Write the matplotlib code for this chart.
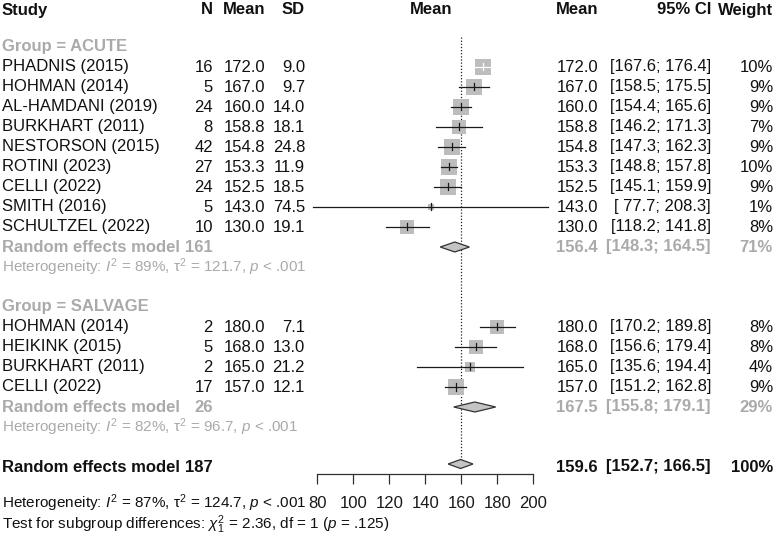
import matplotlib
matplotlib.use("Agg")
import matplotlib.pyplot as plt
from matplotlib.patches import Polygon
import numpy as np

plt.rcParams['font.family'] = ['Liberation Sans', 'DejaVu Sans']
plt.rcParams['mathtext.fontset'] = 'custom'
plt.rcParams['mathtext.rm'] = 'Liberation Sans'
plt.rcParams['mathtext.it'] = 'Liberation Sans:italic'
plt.rcParams['mathtext.bf'] = 'Liberation Sans:bold'

# ---------------- data ----------------
acute_studies = ["PHADNIS (2015)", "HOHMAN (2014)", "AL-HAMDANI (2019)", "BURKHART (2011)",
                 "NESTORSON (2015)", "ROTINI (2023)", "CELLI (2022)", "SMITH (2016)", "SCHULTZEL (2022)"]
acute_n = [16, 5, 24, 8, 42, 27, 24, 5, 10]
acute_mean = [172.0, 167.0, 160.0, 158.8, 154.8, 153.3, 152.5, 143.0, 130.0]
acute_sd = [9.0, 9.7, 14.0, 18.1, 24.8, 11.9, 18.5, 74.5, 19.1]
acute_lo = [167.6, 158.5, 154.4, 146.2, 147.3, 148.8, 145.1, 77.7, 118.2]
acute_hi = [176.4, 175.5, 165.6, 171.3, 162.3, 157.8, 159.9, 208.3, 141.8]
acute_w = [10, 9, 9, 7, 9, 10, 9, 1, 8]

salvage_studies = ["HOHMAN (2014)", "HEIKINK (2015)", "BURKHART (2011)", "CELLI (2022)"]
salvage_n = [2, 5, 2, 17]
salvage_mean = [180.0, 168.0, 165.0, 157.0]
salvage_sd = [7.1, 13.0, 21.2, 12.1]
salvage_lo = [170.2, 156.6, 135.6, 151.2]
salvage_hi = [189.8, 179.4, 194.4, 162.8]
salvage_w = [8, 8, 4, 9]

acute_summary = dict(n=161, est=156.4, lo=148.3, hi=164.5, w=71, het=(89, 121.7, "< .001"))
salvage_summary = dict(n=26, est=167.5, lo=155.8, hi=179.1, w=29, het=(82, 96.7, "< .001"))
overall = dict(n=187, est=159.6, lo=152.7, hi=166.5, w=100, het=(87, 124.7, "< .001"))
subgroup_test = dict(chi2=2.36, df=1, p=".125")

xticks = [80, 100, 120, 140, 160, 180, 200]

# ---------------- layout ----------------
W, H = 776, 536
fig = plt.figure(figsize=(W / 100, H / 100), dpi=100)

# text layer in pixel coordinates
tx = fig.add_axes([0, 0, 1, 1])
tx.set_xlim(0, W)
tx.set_ylim(H, 0)
tx.axis('off')

# plot layer: x in data units, y in pixel rows
ax_left, ax_right = 317.3, 533.3
ax_top, ax_bot = 37, 474
ax = fig.add_axes([ax_left / W, (H - ax_bot) / H, (ax_right - ax_left) / W, (ax_bot - ax_top) / H])
ax.set_xlim(80, 200)
ax.set_ylim(ax_bot, ax_top)
ax.patch.set_visible(False)
for s in ['top', 'right', 'left']:
    ax.spines[s].set_visible(False)
ax.spines['bottom'].set_bounds(80, 200)
ax.spines['bottom'].set_linewidth(0.9)
ax.spines['bottom'].set_color('#303030')
ax.set_yticks([])
ax.set_xticks(xticks)
ax.set_xticklabels([str(t) for t in xticks])
ax.tick_params(axis='x', direction='out', length=7.5, width=0.9, color='#303030',
               pad=8, labelsize=12, labelcolor='#1a1a1a')

FS = 12
FS_HET = 11
GRAY = '#aaaaaa'
BLACK = '#111111'
SQ = '#bdbdbd'
PXU = (ax_right - ax_left) / 120.0  # px per unit

X_STUDY, X_N, X_MEAN, X_SD = 2, 213, 265, 305
X_PMEAN, X_RMEAN, X_CI, X_W = 431, 598, 711, 773


def t(x, y, s, ha='left', color=BLACK, weight='normal', fs=FS):
    tx.text(x, y, s, ha=ha, va='center', fontsize=fs, color=color, fontweight=weight)


# header
yh = 10
t(X_STUDY, yh, "Study", weight='bold')
t(X_N, yh, "N", ha='right', weight='bold')
t(X_MEAN, yh, "Mean", ha='right', weight='bold')
t(X_SD, yh, "SD", ha='right', weight='bold')
t(X_PMEAN, yh, "Mean", ha='center', weight='bold')
t(X_RMEAN, yh, "Mean", ha='right', weight='bold')
t(X_CI, yh, "95% CI", ha='right', weight='bold')
t(X_W, yh, "Weight", ha='right', weight='bold')

ROW0, STEP = 47, 20


def draw_study(y, name, n, m, sd, lo, hi, w):
    t(X_STUDY, y, name)
    t(X_N, y, f"{n}", ha='right')
    t(X_MEAN, y, f"{m:.1f}", ha='right')
    t(X_SD, y, f"{sd:.1f}", ha='right')
    t(X_RMEAN, y, f"{m:.1f}", ha='right')
    lo_s = f"{lo:.1f}"
    if lo < 100:
        lo_s = " " + lo_s
    t(X_CI, y, f"[{lo_s}; {hi:.1f}]", ha='right')
    t(X_W, y, f"{w}%", ha='right')
    side = 16.5 * np.sqrt(w / 10)
    ax.scatter([m], [y], marker='s', s=(side * 0.72) ** 2, color=SQ, linewidths=0, zorder=3, clip_on=False)
    inside = (hi - lo) * PXU < side - 0.5
    lc = 'white' if inside else '#1a1a1a'
    ax.plot([lo, hi], [y, y], color=lc, lw=0.9, zorder=4, clip_on=False)
    ax.plot([m, m], [y - 3.5, y + 3.5], color=lc, lw=0.9, zorder=4, clip_on=False)


def draw_diamond(y, est, lo, hi, h=10):
    poly = Polygon([[lo, y], [est, y - h / 2], [hi, y], [est, y + h / 2]], closed=True,
                   facecolor='#c4c4c4', edgecolor='#333333', lw=0.9, zorder=5, clip_on=False)
    ax.add_patch(poly)


def het_text(vals):
    i2, tau2, p = vals
    return (r"Heterogeneity: $I^2$ = " + f"{i2}%, " + r"$\mathrm{\tau}^2$ = " + f"{tau2}, "
            + r"$p$ " + p)


def draw_group(y0, label, studies, n, mean, sd, lo, hi, w, summ):
    t(X_STUDY, y0, label, color=GRAY, weight='bold')
    y = y0
    for i in range(len(studies)):
        y += STEP
        draw_study(y, studies[i], n[i], mean[i], sd[i], lo[i], hi[i], w[i])
    y += STEP
    t(X_STUDY, y, "Random effects model", color=GRAY, weight='bold')
    t(X_N, y, f"{summ['n']}", ha='right', color=GRAY, weight='bold')
    t(X_RMEAN, y, f"{summ['est']:.1f}", ha='right', color=GRAY, weight='bold')
    t(X_CI, y, f"[{summ['lo']:.1f}; {summ['hi']:.1f}]", ha='right', color=GRAY, weight='bold')
    t(X_W, y, f"{summ['w']}%", ha='right', color=GRAY, weight='bold')
    draw_diamond(y, summ['est'], summ['lo'], summ['hi'])
    y += STEP
    t(X_STUDY, y, het_text(summ['het']), color=GRAY, fs=FS_HET)
    return y


y_end = draw_group(ROW0, "Group = ACUTE", acute_studies, acute_n, acute_mean, acute_sd,
                   acute_lo, acute_hi, acute_w, acute_summary)
y_end = draw_group(y_end + 2 * STEP, "Group = SALVAGE", salvage_studies, salvage_n, salvage_mean,
                   salvage_sd, salvage_lo, salvage_hi, salvage_w, salvage_summary)

yo = y_end + 2 * STEP
t(X_STUDY, yo, "Random effects model", weight='bold')
t(X_N, yo, f"{overall['n']}", ha='right', weight='bold')
t(X_RMEAN, yo, f"{overall['est']:.1f}", ha='right', weight='bold')
t(X_CI, yo, f"[{overall['lo']:.1f}; {overall['hi']:.1f}]", ha='right', weight='bold')
t(X_W, yo, f"{overall['w']}%", ha='right', weight='bold')
draw_diamond(yo - 3, overall['est'], overall['lo'], overall['hi'], h=9)

ax.plot([overall['est'], overall['est']], [ax_top, yo - 3], color='#222222', lw=0.9,
        linestyle=(0, (1, 1.5)), zorder=1)

t(X_STUDY, 503, het_text(overall['het']), fs=FS_HET)
t(X_STUDY, 525, r"Test for subgroup differences: $\chi^2_1$ = " + f"{subgroup_test['chi2']}, df = "
  + f"{subgroup_test['df']} (" + r"$p$" + f" = {subgroup_test['p']})", fs=FS_HET)

fig.savefig("out.png", dpi=100)
